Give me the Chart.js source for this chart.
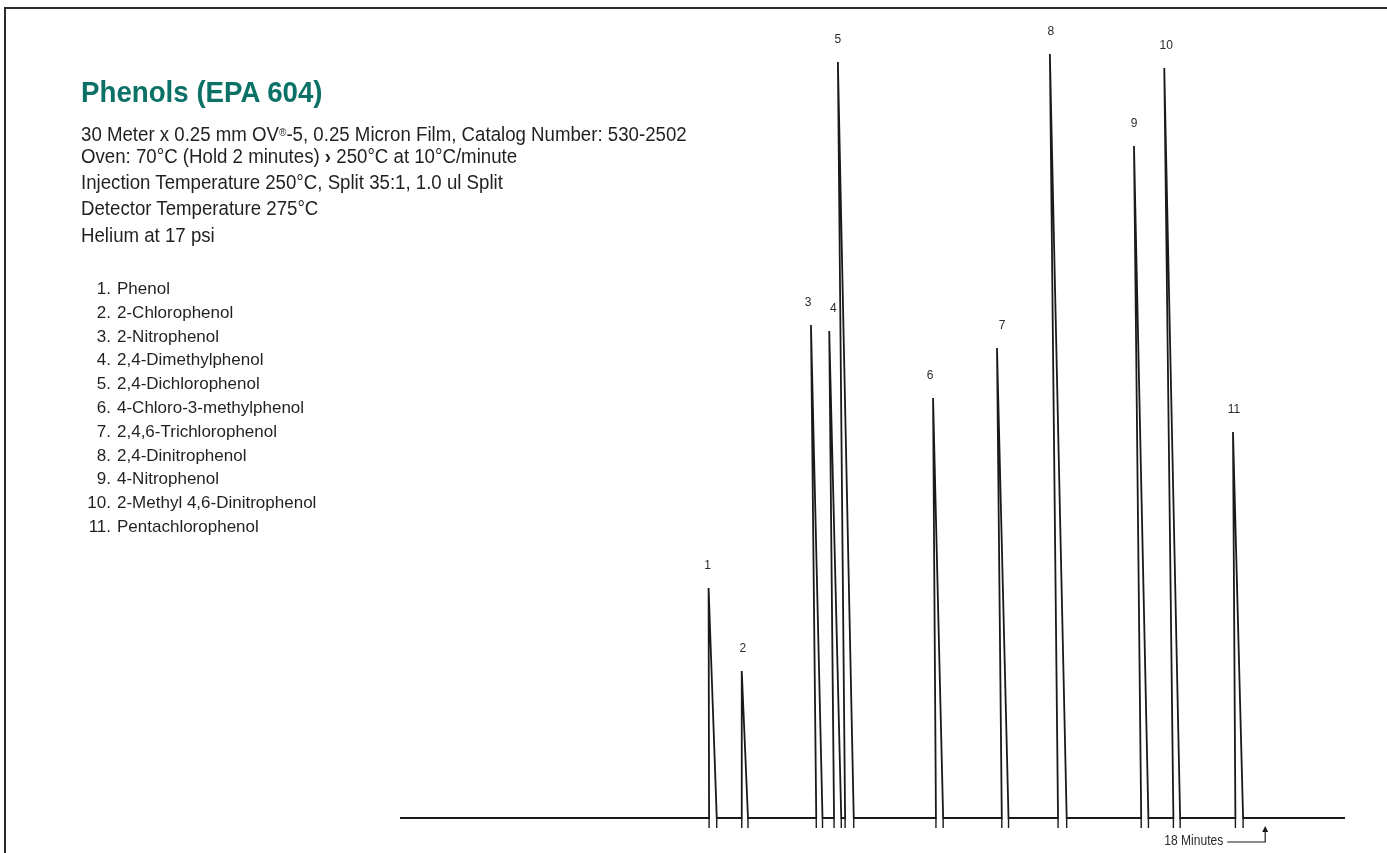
<!DOCTYPE html>
<html>
<head>
<meta charset="utf-8">
<title>Phenols (EPA 604)</title>
<script src="https://cdn.jsdelivr.net/npm/chart.js@4.4.1/dist/chart.umd.min.js"></script>
<style>
  html, body { margin: 0; padding: 0; background: #fff; }
  #page { position: relative; width: 1387px; height: 853px; overflow: hidden; }
  #frame { position: absolute; left: 4px; top: 7px; right: -2px; bottom: -2px; border-top: 2px solid #2b2b2b; border-left: 2px solid #2b2b2b; }
  #gc { position: absolute; left: 0; top: 0; }
  .txt { position: absolute; white-space: nowrap; color: #231f20; font-family: "Liberation Sans", Arial, sans-serif; transform-origin: 0 0; }
  #title { left: 81px; top: 77px; font-size: 30px; line-height: 30px; font-weight: bold; color: #0b7166; transform: scaleX(0.923); }
  .cond { left: 81px; font-size: 20.5px; line-height: 20px; transform: scaleX(0.91); }
  .cond sup { font-size: 11px; vertical-align: 5px; }
  #compounds { left: 86px; top: 277px; font-size: 17px; line-height: 23.8px; }
  #compounds .row { display: flex; }
  #compounds .num { width: 25px; text-align: right; }
  #compounds .name { padding-left: 6px; }
</style>
</head>
<body>
<div id="page">
  <div id="frame"></div>
  <canvas id="gc" width="1387" height="853"></canvas>
  <div id="title" class="txt">Phenols (EPA 604)</div>
  <div class="txt cond" style="top:122px">30 Meter x 0.25 mm OV<sup>®</sup>-5, 0.25 Micron Film, Catalog Number: 530-2502</div>
  <div class="txt cond" style="top:146px">Oven: 70°C (Hold 2 minutes) <b>›</b> 250°C at 10°C/minute</div>
  <div class="txt cond" style="top:172px">Injection Temperature 250°C, Split 35:1, 1.0 ul Split</div>
  <div class="txt cond" style="top:198px">Detector Temperature 275°C</div>
  <div class="txt cond" style="top:225px">Helium at 17 psi</div>
  <div id="compounds" class="txt"></div>
</div>
<script>
// peak table (minutes / detector response)
const peakNumbers = ["1", "2", "3", "4", "5", "6", "7", "8", "9", "10", "11"];
const compoundNames = [
    "Phenol",
    "2-Chlorophenol",
    "2-Nitrophenol",
    "2,4-Dimethylphenol",
    "2,4-Dichlorophenol",
    "4-Chloro-3-methylphenol",
    "2,4,6-Trichlorophenol",
    "2,4-Dinitrophenol",
    "4-Nitrophenol",
    "2-Methyl 4,6-Dinitrophenol",
    "Pentachlorophenol"
];
const apexTimes = [6.42, 7.11, 8.55, 8.93, 9.11, 11.09, 12.42, 13.52, 15.27, 15.90, 17.33];
const startTimes = [6.43, 7.11, 8.66, 9.03, 9.26, 11.15, 12.52, 13.69, 15.42, 16.09, 17.38];
const endTimes = [6.59, 7.24, 8.79, 9.18, 9.44, 11.30, 12.66, 13.87, 15.57, 16.23, 17.54];
const peakHeights = [230, 147, 493, 487, 756, 420, 470, 764, 672, 750, 386];
const runStart = 0;
const runEnd = 19.66;
const markerTime = 18;
const markerText = "18 Minutes";

// compound list
const list = document.getElementById("compounds");
compoundNames.forEach((name, i) => {
    const row = document.createElement("div");
    row.className = "row";
    row.innerHTML = `<span class="num">${peakNumbers[i]}.</span><span class="name">${name}</span>`;
    list.appendChild(row);
});

// build the trace: baseline, then up to each apex and back down
const trace = [{ x: runStart, y: 0 }];
const integrationMarks = [];
apexTimes.forEach((t, i) => {
    trace.push({ x: startTimes[i], y: 0 });
    trace.push({ x: t, y: peakHeights[i] });
    trace.push({ x: endTimes[i], y: 0 });

    [startTimes[i], endTimes[i]].forEach((m) => {
        integrationMarks.push({ x: m, y: 0 });
        integrationMarks.push({ x: m, y: -10 });
        integrationMarks.push({ x: m, y: null });
    });
});
trace.push({ x: runEnd, y: 0 });

const peakLabels = {
    id: "peakLabels",
    afterDatasetsDraw(chart, args, opts) {
        const { ctx, scales: { x, y } } = chart;
        ctx.save();
        ctx.fillStyle = "#2b2b2b";
        ctx.font = '12px "Liberation Sans", Arial, sans-serif';
        ctx.textAlign = "center";
        ctx.textBaseline = "middle";
        peakNumbers.forEach((n, i) => {
            ctx.fillText(n, x.getPixelForValue(apexTimes[i]) + opts.nudge[i], y.getPixelForValue(peakHeights[i]) - 22);
        });

        // time marker under the baseline
        const mx = x.getPixelForValue(markerTime);
        const by = y.getPixelForValue(0);
        ctx.strokeStyle = "#1a1a1a";
        ctx.lineWidth = 1.2;
        ctx.beginPath();
        ctx.moveTo(mx - 38, by + 24);
        ctx.lineTo(mx, by + 24);
        ctx.lineTo(mx, by + 12);
        ctx.stroke();
        ctx.fillStyle = "#1a1a1a";
        ctx.beginPath();
        ctx.moveTo(mx, by + 8);
        ctx.lineTo(mx - 3, by + 14);
        ctx.lineTo(mx + 3, by + 14);
        ctx.closePath();
        ctx.fill();

        ctx.fillStyle = "#2b2b2b";
        ctx.font = '14px "Liberation Sans", Arial, sans-serif';
        ctx.textAlign = "right";
        ctx.translate(mx - 42, by + 23);
        ctx.scale(0.86, 1);
        ctx.fillText(markerText, 0, 0);
        ctx.restore();
    }
};

new Chart(document.getElementById("gc"), {
    type: "scatter",
    data: {
        datasets: [
            {
                data: trace,
                showLine: true,
                borderColor: "#1a1a1a",
                borderWidth: 1.8,
                pointRadius: 0,
                clip: false
            },
            {
                data: integrationMarks,
                showLine: true,
                spanGaps: false,
                borderColor: "#1a1a1a",
                borderWidth: 1.4,
                pointRadius: 0,
                clip: false
            }
        ]
    },
    options: {
        responsive: false,
        animation: false,
        devicePixelRatio: 1,
        layout: { padding: { left: 400, right: 42, top: 8, bottom: 23 } },
        elements: { line: { tension: 0 } },
        scales: {
            x: { type: "linear", display: false, min: runStart, max: runEnd },
            y: { display: false, min: -12, max: 810 }
        },
        plugins: {
            legend: { display: false },
            tooltip: { enabled: false },
            peakLabels: { nudge: [-1, 1, -3, 4, 0, -3, 5, 1, 0, 2, 1] }
        }
    },
    plugins: [peakLabels]
});
</script>
</body>
</html>
